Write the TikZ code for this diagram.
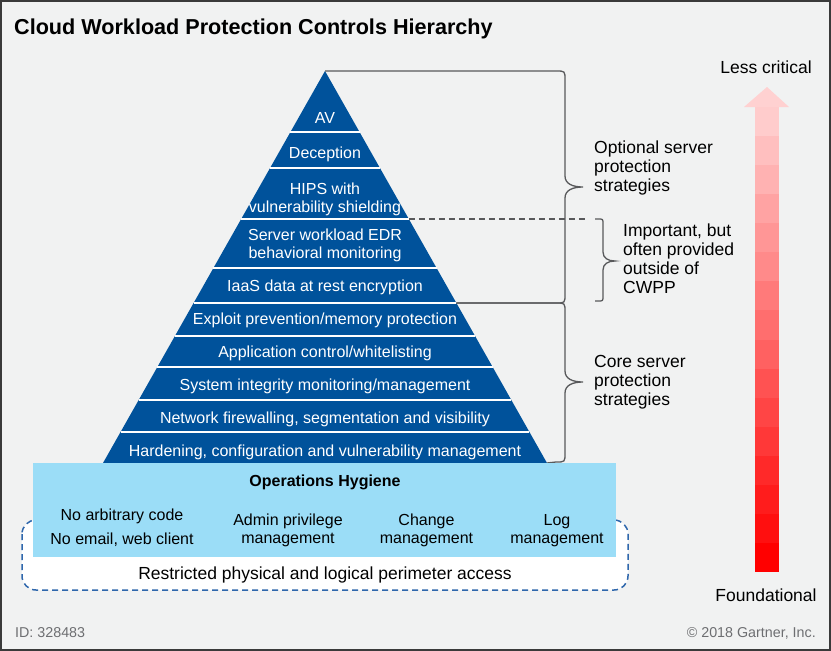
\documentclass[tikz,border=0pt]{standalone}
\usepackage{fontspec}
\setmainfont{Liberation Sans}
\definecolor{pyrblue}{HTML}{00529B}
\definecolor{hygblue}{HTML}{9BDDF7}
\definecolor{bggrey}{HTML}{F1F2F2}
\definecolor{braceline}{HTML}{58595B}
\definecolor{dashblue}{HTML}{2F67AC}
\definecolor{idgrey}{HTML}{6D6E71}
\definecolor{framegrey}{HTML}{3A3A3A}
\begin{document}
\begin{tikzpicture}
	[x=1pt,y=-1pt,
	 tier/.style={text=white,inner sep=0,align=center,font=\fontsize{16}{17.5}\selectfont},
	 sidetext/.style={anchor=west,inner sep=0,align=left,font=\fontsize{17.5}{19}\selectfont},
	 hygtext/.style={inner sep=0,align=center,font=\fontsize{16}{17.5}\selectfont},
	 bracepath/.style={draw=braceline,line width=1.3pt},
	 notetext/.style={text=idgrey,inner sep=0,font=\fontsize{14.3}{16}\selectfont}]

	\useasboundingbox (0,0) rectangle (831,651);
	\fill[bggrey] (0,0) rectangle (831,651);
	\draw[framegrey,line width=2pt] (1,1) rectangle (830,650);

	\node[anchor=base west,inner sep=0,font=\fontsize{21.6}{24}\selectfont\bfseries] (title) at (14,34.5) {Cloud Workload Protection Controls Hierarchy};

	% pyramid
	\coordinate (apex) at (325,71);
	\coordinate (baseL) at (103,463);
	\coordinate (baseR) at (547,463);
	\coordinate (hipsR) at (408.8,219);
	\coordinate (iaasR) at (456.4,303);
	\fill[pyrblue] (apex) -- (baseR) -- (baseL) -- cycle;
	\foreach \y in {132,168,219,268,303,336,367,400,432}
		\draw[white,line width=2pt] ({325-0.5663*(\y-71)},\y) -- ({325+0.5663*(\y-71)},\y);

	\node[tier] (av) at (325,118) {AV};
	\node[tier] (deception) at (325,154) {Deception};
	\node[tier] (hips) at (325,199.5) {HIPS with\\vulnerability shielding};
	\node[tier] (edr) at (325,245.5) {Server workload EDR\\behavioral monitoring};
	\node[tier] (iaas) at (325,287) {IaaS data at rest encryption};
	\node[tier] (exploit) at (325,320) {Exploit prevention/memory protection};
	\node[tier] (appctl) at (325,353) {Application control/whitelisting};
	\node[tier] (sysint) at (325,386) {System integrity monitoring/management};
	\node[tier] (netfw) at (325,419) {Network firewalling, segmentation and visibility};
	\node[tier] (harden) at (325,452) {Hardening, configuration and vulnerability management};

	% braces
	\coordinate (dashEnd) at (585,219);
	\coordinate (impTop) at (595,219);
	\coordinate (impBot) at (595,301);
	\draw[bracepath] (apex) -- (556,71) .. controls (565,71) .. (565,80) -- (565,176)
		.. controls (565,184) and (573,187) .. (583,187) .. controls (573,187) and (565,190) .. (565,198)
		-- (565,294) .. controls (565,303) .. (556,303) -- (iaasR);
	\draw[bracepath] (iaasR) -- (556,303) .. controls (565,303) .. (565,312) -- (565,371)
		.. controls (565,379) and (573,382) .. (583,382) .. controls (573,382) and (565,385) .. (565,393)
		-- (565,453) .. controls (565,462) .. (556,462) -- (baseR);
	\draw[bracepath] (impTop) -- (598,219) .. controls (603,219) .. (603,224) -- (603,252)
		.. controls (603,258) and (608,261) .. (615,261) .. controls (608,261) and (603,264) .. (603,270)
		-- (603,296) .. controls (603,301) .. (598,301) -- (impBot);
	\draw[bracepath,dash pattern=on 6pt off 4pt] (hipsR) -- (dashEnd);

	\node[sidetext] (optional) at (594,167.5) {Optional server\\protection\\strategies};
	\node[sidetext] (important) at (623,259) {Important, but\\often provided\\outside of\\CWPP};
	\node[sidetext] (core) at (594,382) {Core server\\protection\\strategies};

	% operations hygiene
	\draw[dashblue,line width=1.5pt,dash pattern=on 6pt off 4pt,fill=white,rounded corners=14pt] (22,520) rectangle (628,590);
	\fill[hygblue] (33,463) rectangle (616,557);
	\node[hygtext,anchor=base,font=\fontsize{16}{17.5}\selectfont\bfseries] (hygiene) at (325,486) {Operations Hygiene};
	\node[hygtext] (noarb) at (122,528) {No arbitrary code\\[6.5pt]No email, web client};
	\node[hygtext] (admin) at (288,530.5) {Admin privilege\\management};
	\node[hygtext] (change) at (426.5,530.5) {Change\\management};
	\node[hygtext] (logm) at (557,530.5) {Log\\management};
	\node[hygtext,font=\fontsize{17.5}{19}\selectfont] (perimeter) at (325,575) {Restricted physical and logical perimeter access};

	% criticality arrow
	\foreach \i in {0,...,15} {
		\pgfmathtruncatemacro\tint{20+80*\i/15}
		\fill[red!\tint!white] (755,{107+29.0625*\i}) rectangle (779,{107+29.0625*(\i+1)+0.3});
	}
	\fill[red!18!white] (744,107) -- (767,87) -- (789,107) -- cycle;
	\node[sidetext,anchor=center] (lesscrit) at (766,67.5) {Less critical};
	\node[sidetext,anchor=center] (foundational) at (766,595) {Foundational};

	\node[notetext,anchor=base west] (docid) at (15,637) {ID: 328483};
	\node[notetext,anchor=base east] (copyright) at (816,637) {© 2018 Gartner, Inc.};
\end{tikzpicture}
\end{document}
